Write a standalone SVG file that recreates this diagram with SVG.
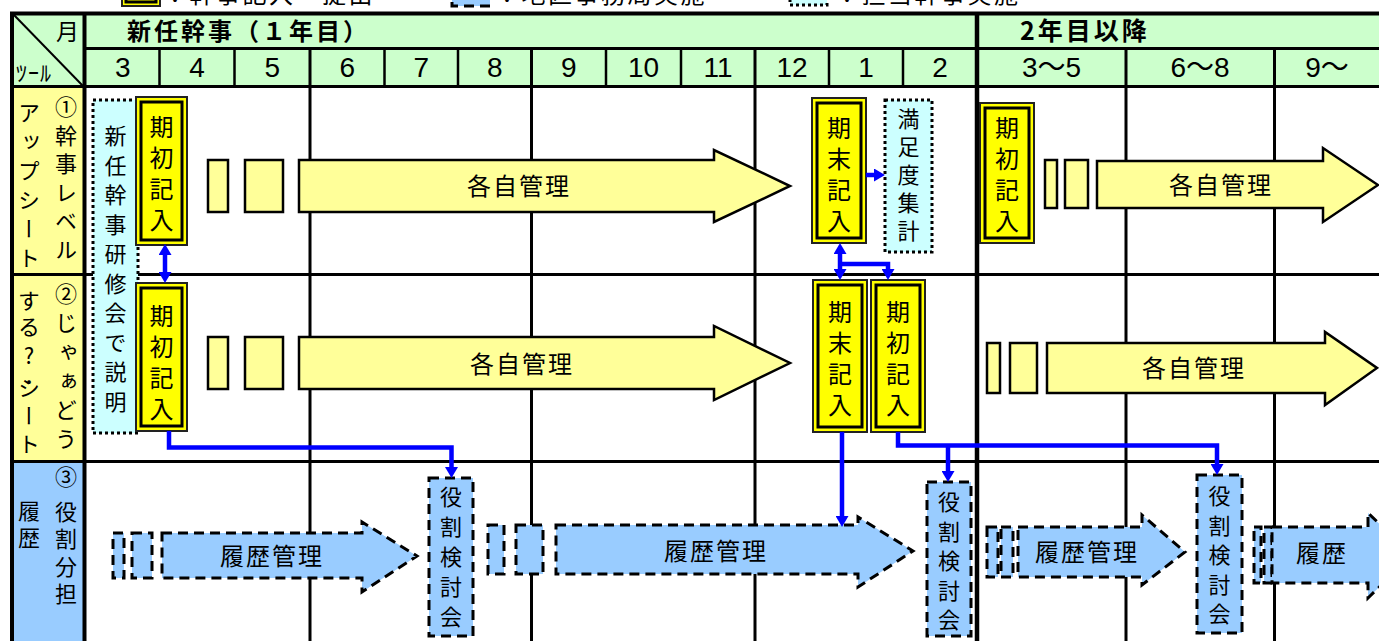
<svg xmlns="http://www.w3.org/2000/svg" width="1379" height="641" viewBox="0 0 1379 641">
<style>
.t{font-family:'Noto Sans CJK JP','Noto Sans CJK SC',sans-serif;fill:#000}
.n{font-family:'Liberation Sans','Noto Sans CJK JP',sans-serif;font-size:28px;text-anchor:middle;fill:#000}
.v{writing-mode:vertical-rl}
.m{text-anchor:middle}
.yo{fill:#FFFF00;stroke:#222;stroke-width:2}
.yi{fill:none;stroke:#000;stroke-width:3}
.py{fill:#FFFF99;stroke:#000;stroke-width:2.5}
.dc{fill:#CCFFFF;stroke:#000;stroke-width:3;stroke-dasharray:3 3}
.db{fill:#99CCFF;stroke:#000;stroke-width:3;stroke-dasharray:10 6}
.c{fill:none;stroke:#0000FF;stroke-width:4.5}
.gl{stroke:#000;fill:none}
</style>
<defs>
<marker id="ah" markerUnits="userSpaceOnUse" markerWidth="11" markerHeight="13" viewBox="0 0 11 13" refX="0" refY="6.5" orient="auto-start-reverse"><path d="M0,0L11,6.5L0,13z" fill="#0000FF"/></marker>
</defs>
<rect x="0" y="0" width="1379" height="641" fill="#FFFFFF"/>

<g id="legend">
<g id="legend-1"><rect class="yo" x="122" y="-20" width="38" height="26"/><rect class="yi" x="126" y="-16" width="30" height="18"/>
<text class="t" x="163" y="3" font-size="24" style="letter-spacing:2.5px">：幹事記入・提出</text></g>
<g id="legend-2"><rect class="db" x="452" y="-20" width="38" height="26"/>
<text class="t" x="495" y="3" font-size="24" style="letter-spacing:2.5px">：地区事務局実施</text></g>
<g id="legend-3"><rect class="dc" x="790" y="-20" width="37" height="25"/>
<text class="t" x="835" y="3" font-size="24" style="letter-spacing:2.5px">：担当幹事実施</text></g>
</g>

<g id="table">
<rect x="14" y="14" width="1365" height="72" fill="#CCFFCC"/>
<rect x="14" y="88" width="70" height="373" fill="#FFFF99"/>
<rect x="14" y="461" width="70" height="180" fill="#99CCFF"/>
<g class="gl">
<line x1="10" y1="13.5" x2="1379" y2="13.5" stroke-width="4"/>
<line x1="12" y1="12" x2="12" y2="641" stroke-width="4"/>
<line x1="84.5" y1="12" x2="84.5" y2="641" stroke-width="4"/>
<line x1="84" y1="48.5" x2="1379" y2="48.5" stroke-width="3"/>
<line x1="10" y1="86.5" x2="1379" y2="86.5" stroke-width="3"/>
<line x1="10" y1="274.5" x2="1379" y2="274.5" stroke-width="3"/>
<line x1="10" y1="461.5" x2="1379" y2="461.5" stroke-width="3"/>
<line x1="159.5" y1="48" x2="159.5" y2="87" stroke-width="2.5"/>
<line x1="234.5" y1="48" x2="234.5" y2="87" stroke-width="2.5"/>
<line x1="384.5" y1="48" x2="384.5" y2="87" stroke-width="2.5"/>
<line x1="458" y1="48" x2="458" y2="87" stroke-width="2.5"/>
<line x1="606" y1="48" x2="606" y2="87" stroke-width="2.5"/>
<line x1="681" y1="48" x2="681" y2="87" stroke-width="2.5"/>
<line x1="829" y1="48" x2="829" y2="87" stroke-width="2.5"/>
<line x1="903" y1="48" x2="903" y2="87" stroke-width="2.5"/>
<line x1="310" y1="48" x2="310" y2="641" stroke-width="3"/>
<line x1="531.5" y1="48" x2="531.5" y2="641" stroke-width="3"/>
<line x1="755" y1="48" x2="755" y2="641" stroke-width="3"/>
<line x1="1126" y1="48" x2="1126" y2="641" stroke-width="3"/>
<line x1="1274.5" y1="48" x2="1274.5" y2="641" stroke-width="3"/>
<line x1="977" y1="12" x2="977" y2="641" stroke-width="4.5"/>
<line x1="14" y1="15" x2="83" y2="86" stroke-width="2"/>
</g>
<text class="t m" x="67.5" y="40" font-size="23">月</text>
<text class="t" x="16" y="81" font-size="22" style="letter-spacing:1px">ﾂｰﾙ</text>
<text class="t" x="127" y="40" font-size="24" font-weight="bold" style="letter-spacing:3px">新任幹事（１年目）</text>
<text class="t" x="1020" y="40" font-size="25" font-weight="bold" style="letter-spacing:3px">2年目以降</text>
<text class="n" x="122.8" y="77">3</text>
<text class="n" x="197" y="77">4</text>
<text class="n" x="272.3" y="77">5</text>
<text class="n" x="347.3" y="77">6</text>
<text class="n" x="421.3" y="77">7</text>
<text class="n" x="494.8" y="77">8</text>
<text class="n" x="568.8" y="77">9</text>
<text class="n" x="643.5" y="77">10</text>
<text class="n" x="718" y="77">11</text>
<text class="n" x="792" y="77">12</text>
<text class="n" x="866" y="77">1</text>
<text class="n" x="940" y="77">2</text>
<text class="n" x="1051.5" y="77">3～5</text>
<text class="n" x="1200" y="77">6～8</text>
<text class="n" x="1327" y="77">9～</text>
</g>

<g id="label-row1">
<text class="t v" x="66" y="96" font-size="22" style="letter-spacing:6.5px">①幹事レベル</text>
<text class="t v" x="29" y="102" font-size="22" style="letter-spacing:7px">アップシート</text>
</g>
<g id="label-row2">
<text class="t v" x="66" y="283" font-size="22" style="letter-spacing:7px">②じゃぁどう</text>
<text class="t v" x="29" y="290" font-size="22" style="letter-spacing:4px"><tspan y="290">する</tspan><tspan y="345" style="text-orientation:upright">?･</tspan><tspan y="377" style="letter-spacing:6px">シート</tspan></text>
</g>
<g id="label-row3">
<text class="t v" x="66" y="466" font-size="22" style="letter-spacing:5.5px"><tspan y="466">③</tspan><tspan y="500">役割分担</tspan></text>
<text class="t v" x="29" y="500" font-size="22" style="letter-spacing:5px">履歴</text>
</g>

<g id="kenshu">
<rect class="dc" x="93" y="100" width="45" height="333"/>
<text class="t v" x="115.5" y="125" font-size="22" style="letter-spacing:7.5px">新任幹事研修会で説明</text>
</g>
<g id="kisho-r1">
<rect class="yo" x="136" y="97" width="51" height="148"/><rect class="yi" x="141" y="102" width="41" height="138"/>
<text class="t v" x="161.5" y="115" font-size="24" style="letter-spacing:7px">期初記入</text>
</g>
<g id="kisho-r2">
<rect class="yo" x="136" y="283" width="51" height="148"/><rect class="yi" x="141" y="288" width="41" height="138"/>
<text class="t v" x="161.5" y="304" font-size="24" style="letter-spacing:7px">期初記入</text>
</g>
<g id="small-r1"><rect class="py" x="208" y="160" width="20" height="52"/><rect class="py" x="245" y="160" width="38" height="52"/></g>
<g id="small-r2"><rect class="py" x="208" y="337" width="20" height="52"/><rect class="py" x="245" y="337" width="38" height="52"/></g>
<g id="kanri-r1">
<path class="py" d="M299,160L714,160L714,150L790,186L714,222L714,212L299,212Z"/>
<text class="t m" x="519" y="195" font-size="24" style="letter-spacing:2px">各自管理</text>
</g>
<g id="kanri-r2">
<path class="py" d="M299,337L714,337L714,326L790,363L714,400L714,389L299,389Z"/>
<text class="t m" x="522" y="373" font-size="24" style="letter-spacing:2px">各自管理</text>
</g>
<g id="kimatsu-r1">
<rect class="yo" x="812" y="98" width="54" height="145"/><rect class="yi" x="817" y="103" width="44" height="135"/>
<text class="t v" x="839" y="116" font-size="24" style="letter-spacing:7px">期末記入</text>
</g>
<g id="manzoku">
<rect class="dc" x="885" y="100" width="47" height="152"/>
<text class="t v" x="908.5" y="108" font-size="22" style="letter-spacing:6px">満足度集計</text>
</g>
<g id="kimatsu-r2">
<rect class="yo" x="813" y="280" width="54" height="152"/><rect class="yi" x="818" y="285" width="44" height="142"/>
<text class="t v" x="840" y="300" font-size="24" style="letter-spacing:7px">期末記入</text>
</g>
<g id="kisho2-r2">
<rect class="yo" x="871" y="280" width="54" height="152"/><rect class="yi" x="876" y="285" width="44" height="142"/>
<text class="t v" x="898" y="300" font-size="24" style="letter-spacing:7px">期初記入</text>
</g>
<g id="kisho-y2-r1">
<rect class="yo" x="980" y="103" width="54" height="140"/><rect class="yi" x="985" y="108" width="44" height="130"/>
<text class="t v" x="1007" y="116" font-size="24" style="letter-spacing:7px">期初記入</text>
</g>
<g id="small-y2-r1"><rect class="py" x="1045" y="160" width="12" height="48"/><rect class="py" x="1065" y="160" width="23" height="48"/></g>
<g id="kanri-y2-r1">
<path class="py" d="M1097,161L1323,161L1323,148L1378,185L1323,222L1323,208L1097,208Z"/>
<text class="t m" x="1221" y="194" font-size="24" style="letter-spacing:2px">各自管理</text>
</g>
<g id="small-y2-r2"><rect class="py" x="987" y="343" width="13" height="50"/><rect class="py" x="1010" y="343" width="27" height="50"/></g>
<g id="kanri-y2-r2">
<path class="py" d="M1047,343L1325,343L1325,332L1377,368L1325,405L1325,393L1047,393Z"/>
<text class="t m" x="1194" y="377" font-size="24" style="letter-spacing:2px">各自管理</text>
</g>

<g id="small-r3a"><rect class="db" x="113" y="533" width="11" height="45"/><rect class="db" x="132" y="533" width="20" height="45"/></g>
<g id="rireki-1">
<path class="db" d="M162,533L362,533L362,522L417,556L362,592L362,578L162,578Z"/>
<text class="t m" x="272" y="565" font-size="24" style="letter-spacing:2px">履歴管理</text>
</g>
<g id="yakuwari-1">
<rect class="db" x="429" y="478" width="44" height="158"/>
<text class="t v" x="451" y="486" font-size="22" style="letter-spacing:8px">役割検討会</text>
</g>
<g id="small-r3b"><rect class="db" x="488" y="525" width="16" height="49"/><rect class="db" x="516" y="525" width="27" height="49"/></g>
<g id="rireki-2">
<path class="db" d="M556,525L858,525L858,517L913,551L858,587L858,574L556,574Z"/>
<text class="t m" x="716" y="560" font-size="24" style="letter-spacing:2px">履歴管理</text>
</g>
<g id="yakuwari-2">
<rect class="db" x="927" y="482" width="44" height="154"/>
<text class="t v" x="949" y="491" font-size="22" style="letter-spacing:7.5px">役割検討会</text>
</g>
<g id="small-r3c"><rect class="db" x="987" y="527" width="11" height="50"/><rect class="db" x="1001" y="527" width="12" height="50"/></g>
<g id="rireki-3">
<path class="db" d="M1018,527L1142,527L1142,515L1185,552L1142,585L1142,577L1018,577Z"/>
<text class="t m" x="1087" y="561" font-size="24" style="letter-spacing:2px">履歴管理</text>
</g>
<g id="yakuwari-3">
<rect class="db" x="1197" y="475" width="45" height="158"/>
<text class="t v" x="1219.5" y="485" font-size="22" style="letter-spacing:7.5px">役割検討会</text>
</g>
<g id="small-r3d"><rect class="db" x="1254" y="527" width="7" height="56"/><rect class="db" x="1264" y="527" width="8" height="56"/></g>
<g id="rireki-4">
<path class="db" d="M1272,527L1368,527L1368,513L1412,555L1368,598L1368,583L1272,583Z"/>
<text class="t m" x="1322" y="562" font-size="24" style="letter-spacing:2px">履歴</text>
</g>

<g id="connectors">
<path class="c" d="M165,255L165,272" marker-start="url(#ah)" marker-end="url(#ah)"/>
<path class="c" d="M866,175L874,175" marker-end="url(#ah)"/>
<path class="c" d="M840,254L840,269" marker-start="url(#ah)" marker-end="url(#ah)"/>
<path class="c" d="M840,264L888,264L888,269" marker-end="url(#ah)"/>
<path class="c" d="M169,431L169,447.5L451.5,447.5L451.5,467" marker-end="url(#ah)"/>
<path class="c" d="M842,432L842,516" marker-end="url(#ah)"/>
<path class="c" d="M898,432L898,445.5L1217,445.5L1217,464" marker-end="url(#ah)"/>
<path class="c" d="M948,445.5L948,471" marker-end="url(#ah)"/>
</g>
</svg>
